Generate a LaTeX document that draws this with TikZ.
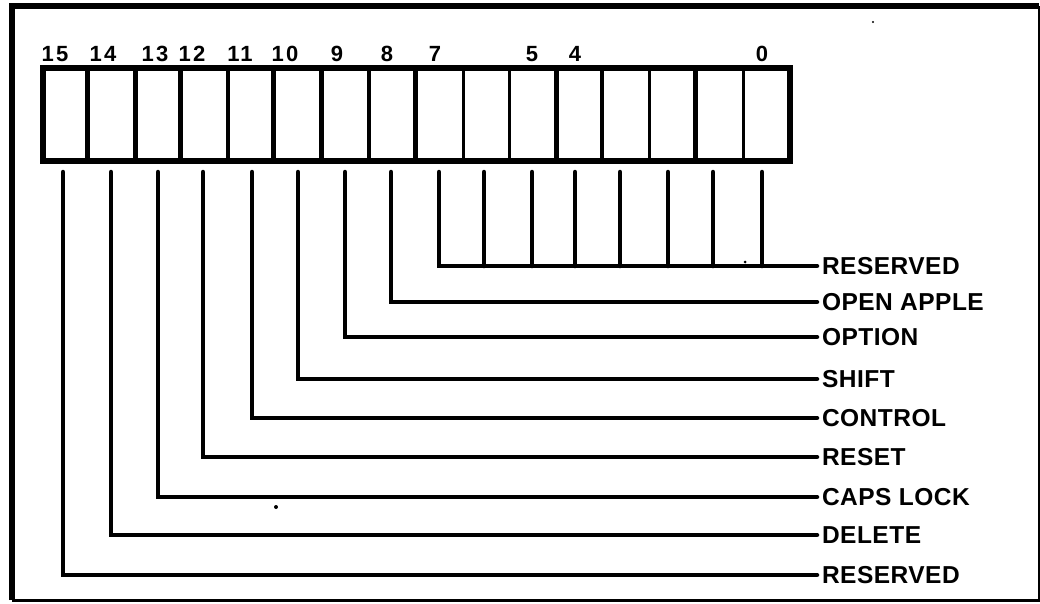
\documentclass[tikz,border=0pt]{standalone}
\usepackage{fontspec}
\setmainfont{Liberation Sans}
\begin{document}
\begin{tikzpicture}[x=1pt,y=-1pt,
  wire/.style={line width=4.5pt, line cap=round},
  lbl/.style={anchor=west, inner sep=0pt, outer xsep=5pt, font=\fontsize{24.5}{25}\selectfont\bfseries\addfontfeature{LetterSpace=2}},
  num/.style={inner sep=0pt, font=\fontsize{22}{23}\selectfont\bfseries\addfontfeature{LetterSpace=10}}]
\useasboundingbox (0,0) rectangle (1040,603);
% outer frame
\draw[line width=6pt] (12,600) -- (12,6) -- (1039,6);
\draw[line width=3pt] (12,600) -- (1039,600) -- (1039,6);
% register
\node[draw, line width=6pt, minimum width=747pt, minimum height=93pt, inner sep=0pt, anchor=north west] (reg) at (40,65) {};
\foreach \x/\w in {87/5,135/5,180/5,228/4,273/5,321/5,369/4,415/5,463/3,509/3,556/5,602/3.5,649/3,695/5,743/3}
  \draw[line width=\w pt] (\x,65) -- (\x,158);
% bit numbers
\foreach \n/\x in {15/55,14/103,13/155,12/192,11/240,10/285,9/337,8/387,7/435,5/532,4/575,0/762}
  \node[num] (n\n) at (\x,54) {\n};
% bit line tops
\foreach \n/\x in {15/63,14/111,13/158,12/203,11/252,10/298,9/345,8/391,7/439,6/484,5/532,4/575,3/620,2/668,1/713,0/762}
  \coordinate (b\n) at (\x,172);
% labels
\node[lbl] (l7) at (817,266) {RESERVED};
\node[lbl] (l8) at (817,302) {OPEN APPLE};
\node[lbl] (l9) at (817,337) {OPTION};
\node[lbl] (l10) at (817,379) {SHIFT};
\node[lbl] (l11) at (817,418) {CONTROL};
\node[lbl] (l12) at (817,457) {RESET};
\node[lbl] (l13) at (817,497) {CAPS LOCK};
\node[lbl] (l14) at (817,535) {DELETE};
\node[lbl] (l15) at (817,575) {RESERVED};
% wires
\foreach \n in {8,...,15}
  \draw[wire] (b\n) |- (l\n.west);
\draw[wire] (b7) |- (l7.west);
\foreach \n in {6,...,0}
  \draw[wire] (b\n) -- (b\n |- l7.west);
% stray specks
\fill (276,507) circle (2pt);
\fill (873,22) circle (1.2pt);
\fill (745,262) circle (1.5pt);
\end{tikzpicture}
\end{document}
